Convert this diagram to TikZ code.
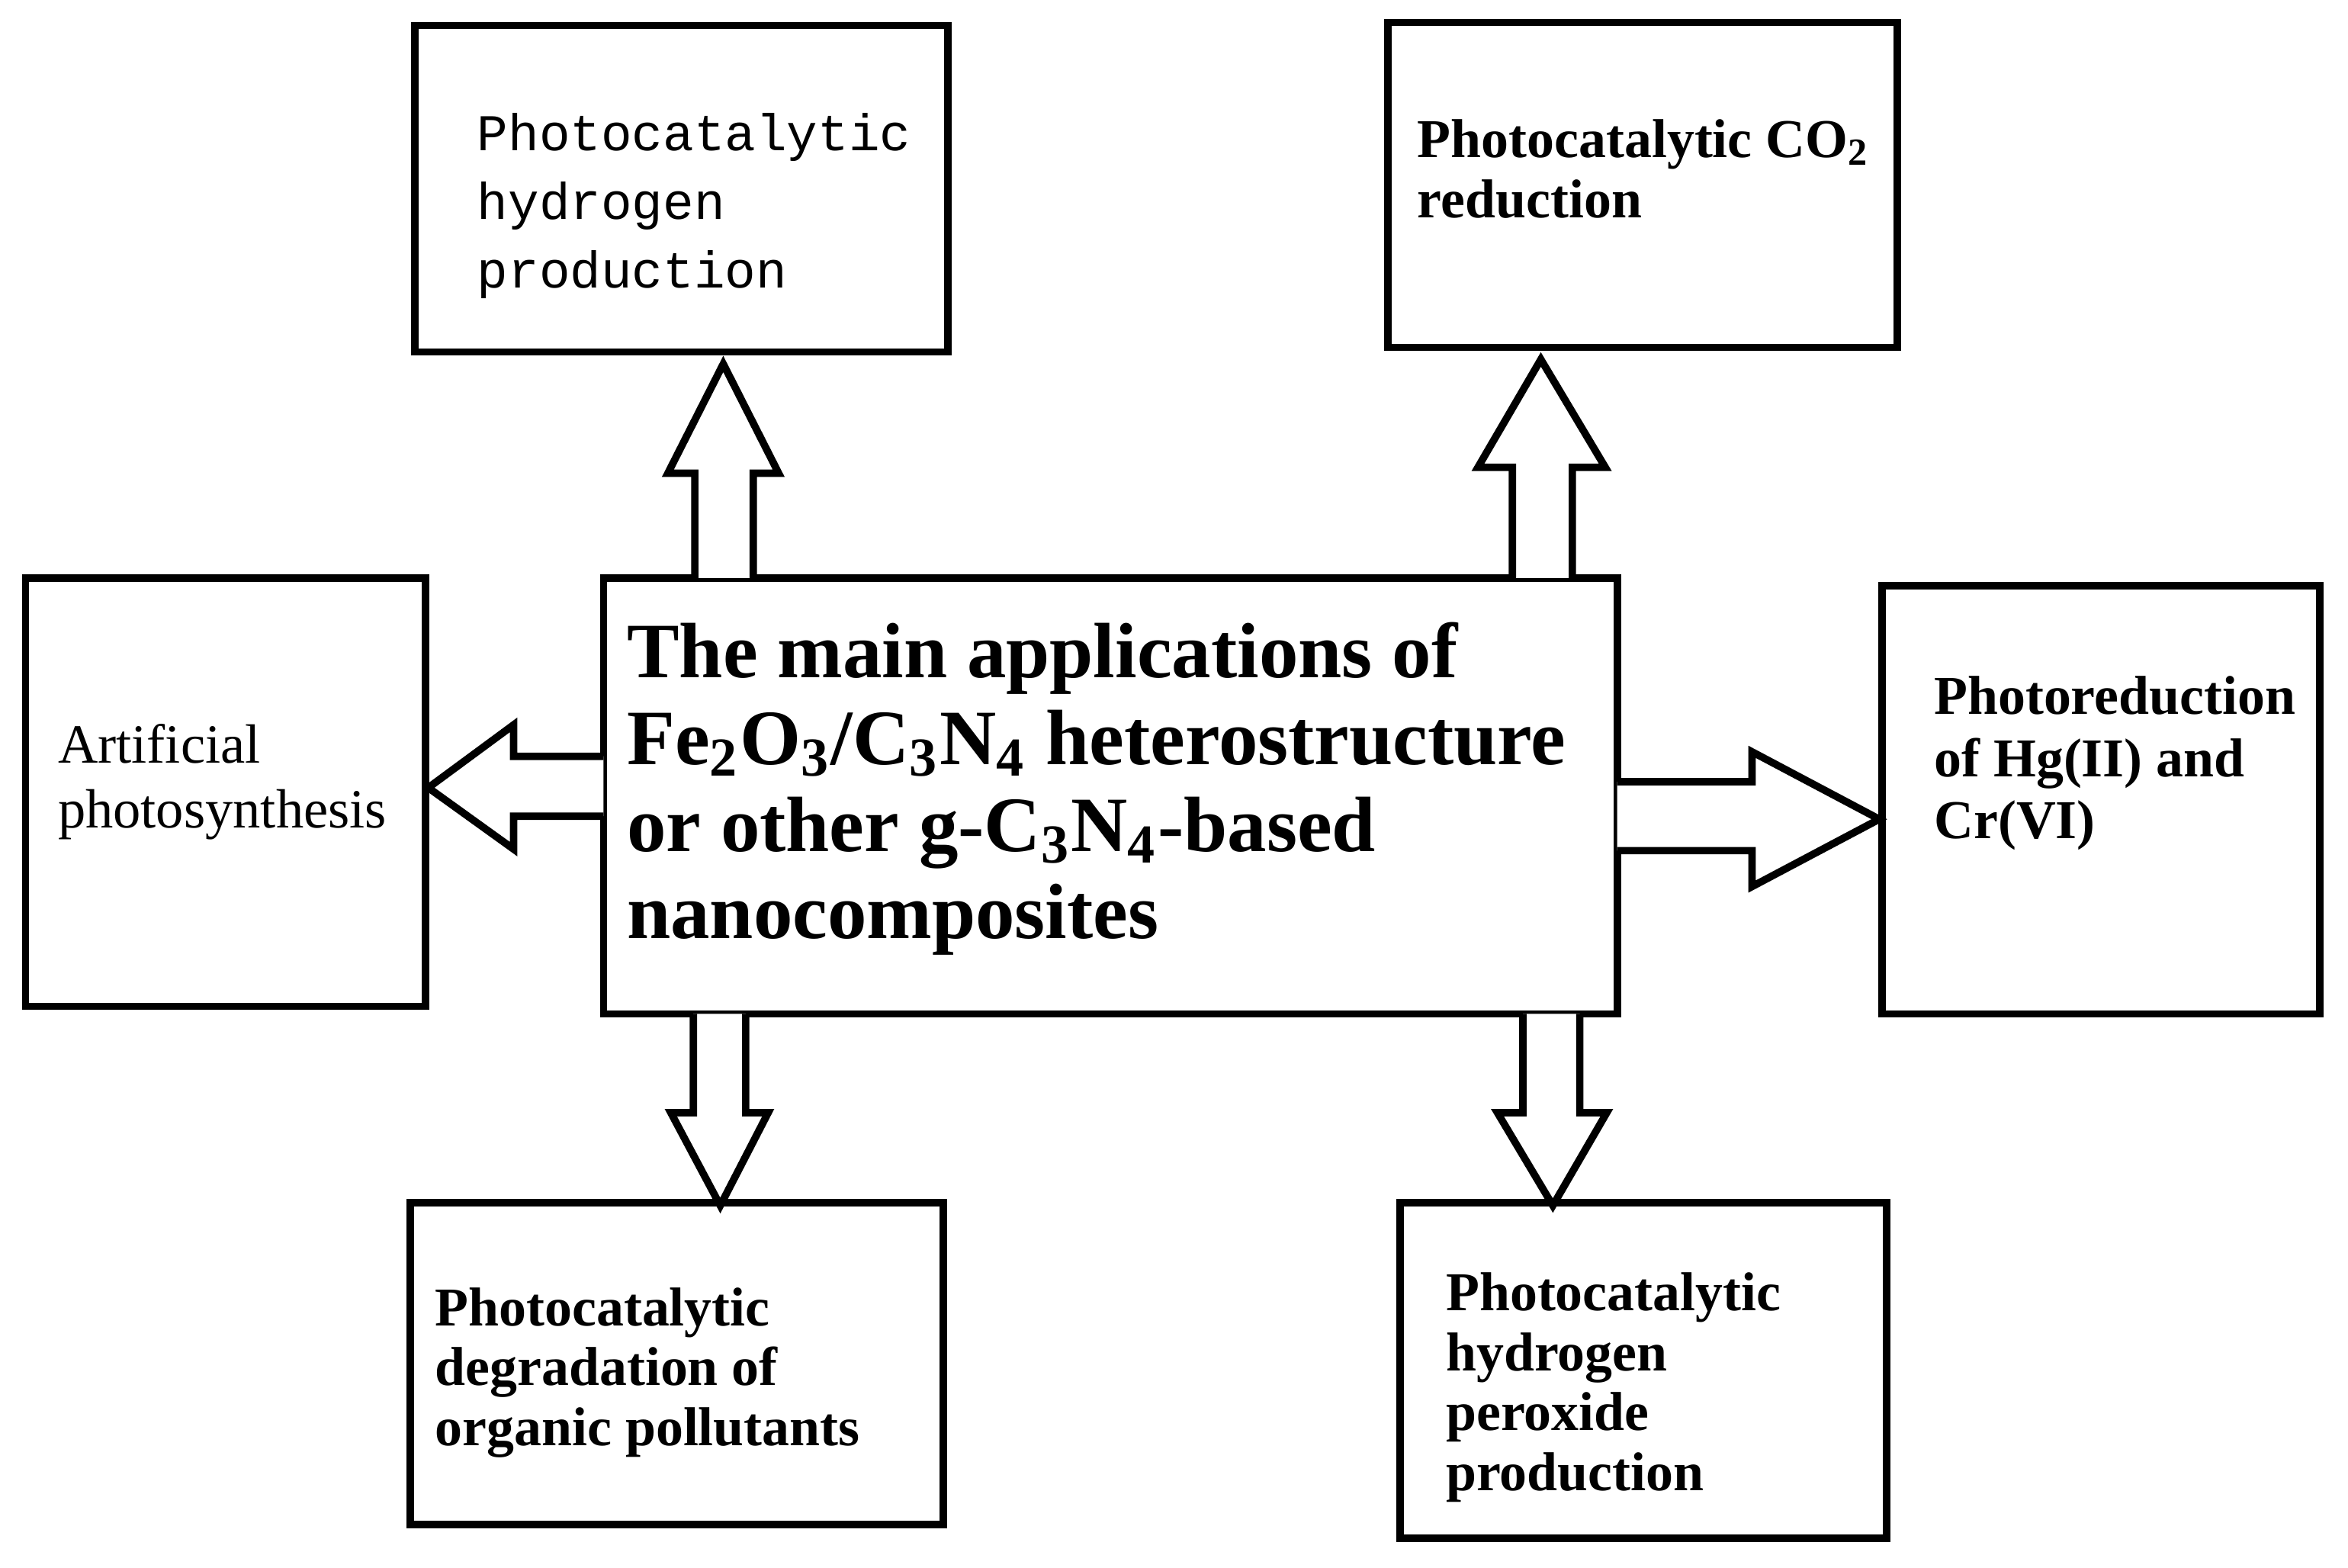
\documentclass[tikz,border=0pt]{standalone}
\usepackage{fontspec}
\setmainfont{Liberation Serif}
\newfontfamily\monof{Liberation Mono}
\begin{document}
\begin{tikzpicture}[x=0.01cm,y=-0.01cm,
  bx/.style={draw,line width=1.4pt},
  ar/.style={draw,line width=1.4pt,fill=white,line join=miter},
  tx/.style={anchor=north west,inner sep=0,align=left}]
\useasboundingbox[fill=white] (0,0) rectangle (1568,1047);
\draw[bx] (277,17) rectangle (633,235);
\draw[bx] (927,15) rectangle (1267,232);
\draw[bx] (17,386) rectangle (284,672);
\draw[bx] (403,386) rectangle (1080,677);
\draw[bx] (1257,391) rectangle (1549,677);
\draw[bx] (274,803) rectangle (630,1018);
\draw[bx] (935,803) rectangle (1260,1027);
% arrows
\draw[ar] (464,386)--(464,316)--(446,316)--(483,243)--(520,316)--(503,316)--(503,386);
\draw[ar] (1010,386)--(1010,312)--(987,312)--(1029,240)--(1072,312)--(1050,312)--(1050,386);
\draw[ar] (403,505)--(343,505)--(343,484)--(286,526)--(343,567)--(343,545)--(403,545);
\draw[ar] (1080,522)--(1170,522)--(1170,502)--(1255,547)--(1170,592)--(1170,568)--(1080,568);
\draw[ar] (463,677)--(463,743)--(448,743)--(481,805)--(513,743)--(498,743)--(498,677);
\draw[ar] (1017,677)--(1017,743)--(1000,743)--(1037,805)--(1073,743)--(1055,743)--(1055,677);
% texts
\node[tx,font=\monof\fontsize{9.8}{13}\selectfont] (t1) at (318,75) {Photocatalytic\\hydrogen\\production};
\node[tx,font=\bfseries\fontsize{10.4}{11.4}\selectfont] (t2) at (946,79) {Photocatalytic CO\textsubscript{2}\\reduction};
\node[tx,font=\fontsize{10.5}{12.2}\selectfont] (t3) at (38,483) {Artificial\\photosynthesis};
\node[tx,font=\bfseries\fontsize{14.9}{16.5}\selectfont] (t4) at (418,415) {The main applications of\\Fe\textsubscript{2}O\textsubscript{3}/C\textsubscript{3}N\textsubscript{4} heterostructure\\or other g-C\textsubscript{3}N\textsubscript{4}-based\\nanocomposites};
\node[tx,font=\bfseries\fontsize{10.4}{11.8}\selectfont] (t5) at (1291,451) {Photoreduction\\of Hg(II) and\\Cr(VI)};
\node[tx,font=\bfseries\fontsize{10.4}{11.4}\selectfont] (t6) at (290,859) {Photocatalytic\\degradation of\\organic pollutants};
\node[tx,font=\bfseries\fontsize{10.4}{11.4}\selectfont] (t7) at (965,849) {Photocatalytic\\hydrogen\\peroxide\\production};
\end{tikzpicture}
\end{document}
